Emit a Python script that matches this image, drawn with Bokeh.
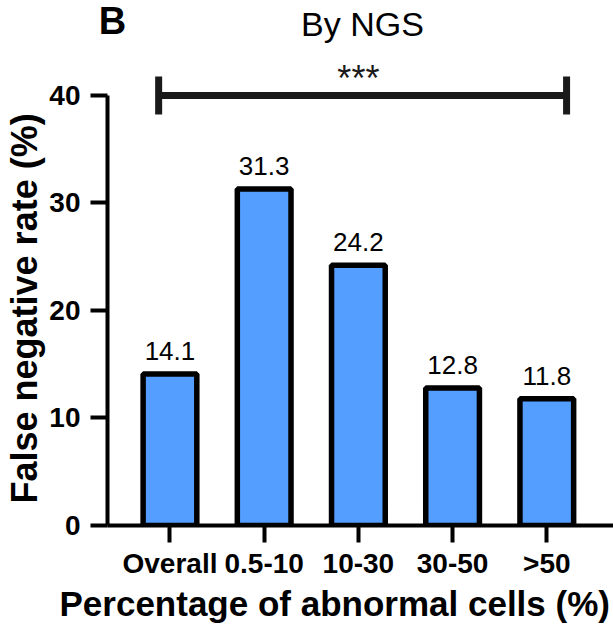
from bokeh.plotting import figure
from bokeh.layouts import column
from bokeh.models import Range1d, FixedTicker, ColumnDataSource, Title
from bokeh.embed import file_html
from bokeh.resources import INLINE
from bokeh.core.properties import value

# ---- data ----
categories = ["Overall", "0.5-10", "10-30", "30-50", ">50"]
rates = [14.1, 31.3, 24.2, 12.8, 11.8]
rate_labels = ["14.1", "31.3", "24.2", "12.8", "11.8"]
y_ticks = [0, 10, 20, 30, 40]
sig_from = 0          # index of first category in comparison
sig_to = 4            # index of last category in comparison
sig_level = 40        # height of the significance bracket
sig_text = "***"
title_text = "By NGS"
panel_text = "B"
x_title = "Percentage of abnormal cells (%)"
y_title = "False negative rate (%)"

FONT = "Liberation Sans"
BAR_BLUE = "#549EFF"
INK = "#1a1a1a"

# ---- header strip: panel letter and title ----
head = figure(width=613, height=48, output_backend="svg", toolbar_location=None,
              x_range=Range1d(0, 613), y_range=Range1d(48, 0),
              x_axis_type=None, y_axis_type=None, min_border=0)
try:
    head.frame_align = False
except Exception:
    pass
head.outline_line_color = None
head.grid.visible = False
head.text(x=[112], y=[20], text=[panel_text], text_align="center",
          text_baseline="middle", text_font=value(FONT),
          text_font_style="bold", text_font_size="38px", text_color="black")
head.text(x=[362], y=[23], text=[title_text], text_align="center",
          text_baseline="middle", text_font=value(FONT),
          text_font_size="34px", text_color="black")

# ---- main chart ----
xs = list(range(len(categories)))
src = ColumnDataSource(dict(x=xs, top=rates, label=rate_labels))

p = figure(width=613, height=577, output_backend="svg", toolbar_location=None,
           x_range=Range1d(-0.663, 4.708), y_range=Range1d(0, 44.37),
           min_border_left=107, min_border_right=0, min_border_top=0,
           min_border_bottom=100)
try:
    p.frame_align = False
except Exception:
    pass
p.outline_line_color = None
p.grid.visible = False
p.background_fill_color = "white"
p.border_fill_color = "white"

p.vbar(x="x", top="top", bottom=0, width=0.57, source=src,
       fill_color=BAR_BLUE, line_color="black", line_width=5.5)

p.text(x="x", y="top", text="label", source=src, text_align="center",
       text_baseline="middle", y_offset=-23,
       text_font=value(FONT), text_font_size="26px", text_color="black")

# significance bracket
bx0 = sig_from - 0.12
bx1 = sig_to + 0.21
p.line(x=[bx0, bx1], y=[sig_level, sig_level], line_width=7,
       line_color=INK, line_cap="butt")
p.segment(x0=[bx0, bx1], y0=[sig_level - 1.77] * 2,
          x1=[bx0, bx1], y1=[sig_level + 1.77] * 2,
          line_width=7, line_color=INK, line_cap="butt")
p.text(x=[(sig_from + sig_to) / 2], y=[sig_level], text=[sig_text],
       text_align="center", text_baseline="middle", y_offset=-17,
       text_font=value(FONT), text_font_size="36px", text_color=INK)

# axes
xa = p.xaxis[0]
xa.ticker = FixedTicker(ticks=xs)
xa.major_label_overrides = {i: c for i, c in zip(xs, categories)}
xa.minor_tick_line_color = None
xa.major_tick_in = 0
xa.major_tick_out = 17
xa.major_tick_line_width = 4
xa.major_tick_line_color = "black"
xa.axis_line_width = 4
xa.axis_line_color = "black"
xa.major_label_standoff = 5
xa.major_label_text_font = FONT
xa.major_label_text_font_style = "bold"
xa.major_label_text_font_size = "28px"
xa.major_label_text_color = "black"

ya = p.yaxis[0]
ya.ticker = FixedTicker(ticks=y_ticks)
ya.bounds = (0, 40)
ya.minor_tick_line_color = None
ya.major_tick_in = 0
ya.major_tick_out = 17
ya.major_tick_line_width = 4
ya.major_tick_line_color = "black"
ya.axis_line_width = 4
ya.axis_line_color = "black"
ya.major_label_standoff = 10
ya.major_label_text_font = FONT
ya.major_label_text_font_style = "bold"
ya.major_label_text_font_size = "28px"
ya.major_label_text_color = "black"

# axis titles
p.add_layout(Title(text=x_title, align="left", offset=-48, standoff=0,
                   text_font=FONT, text_font_style="bold",
                   text_font_size="35px", text_color="black"), "below")
p.add_layout(Title(text=y_title, align="left", offset=22, standoff=0,
                   vertical_align="top",
                   text_font=FONT, text_font_style="bold",
                   text_font_size="36px", text_color="black"), "left")

layout = column(head, p, spacing=0)
open("out.html", "w").write(file_html(layout, INLINE))
